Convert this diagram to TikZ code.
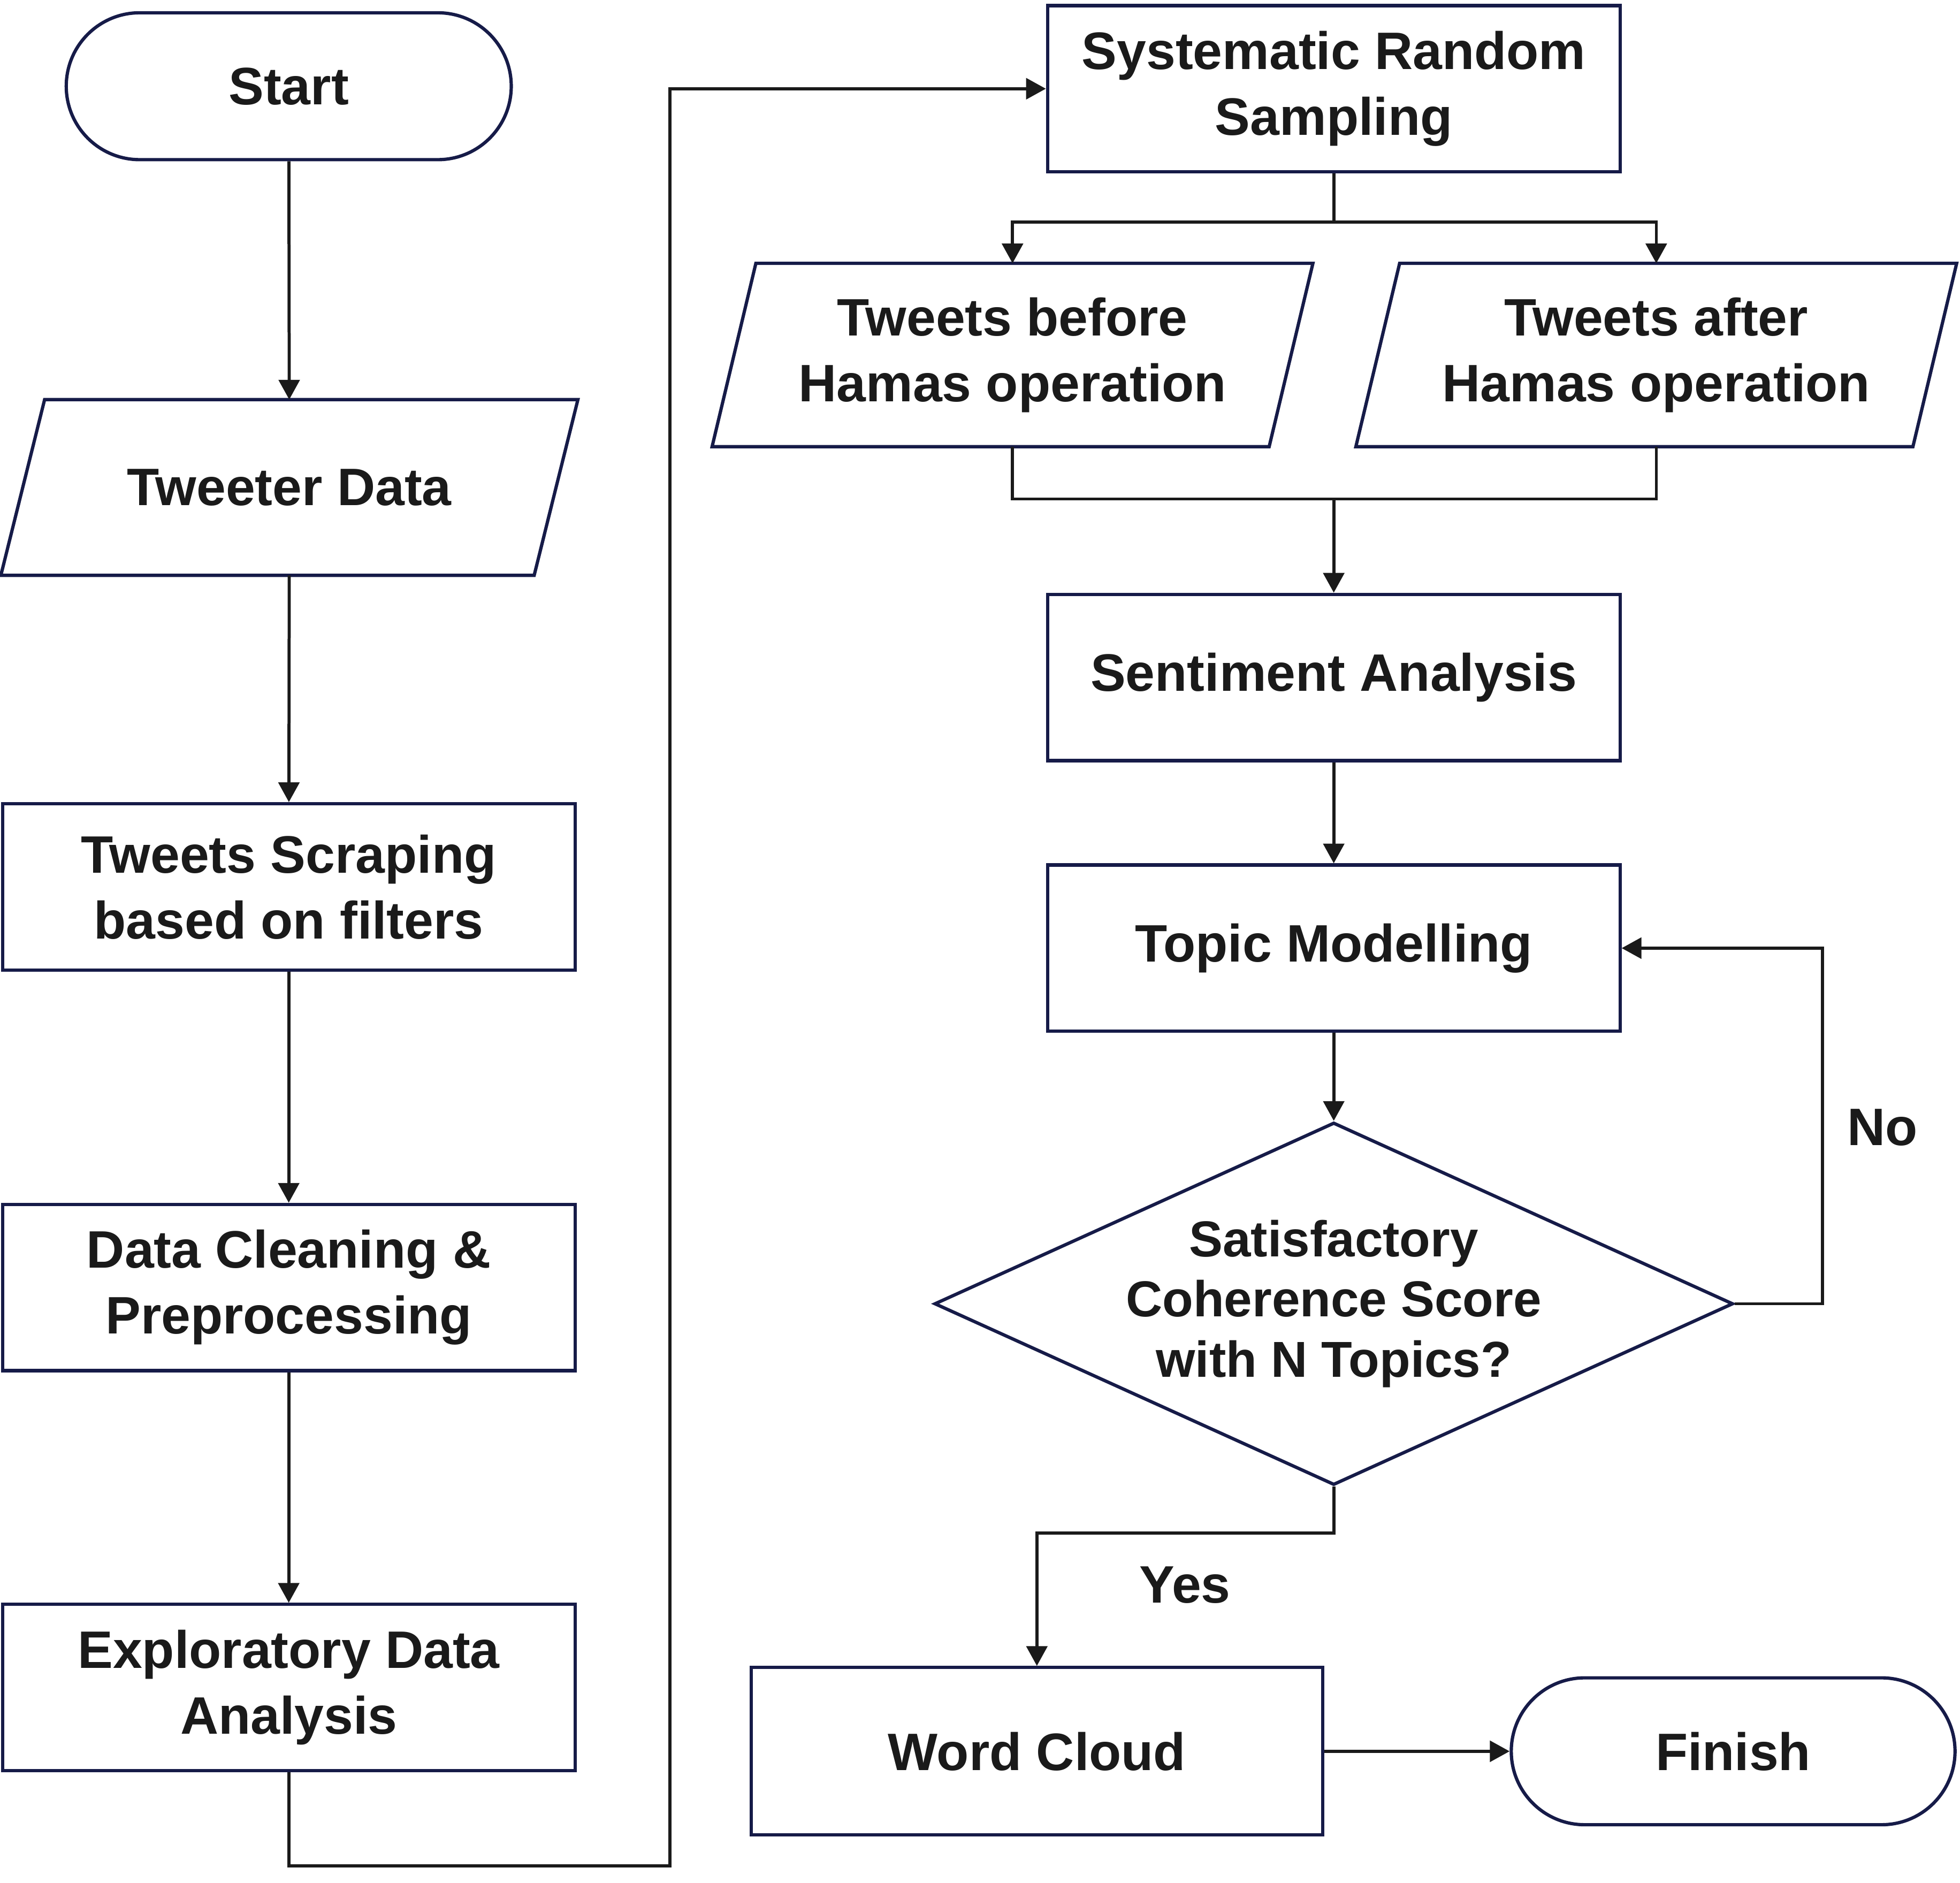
\documentclass[tikz,border=0pt]{standalone}
\usepackage{fontspec}
\setmainfont{Liberation Sans}
\usepackage{tikz}
\usetikzlibrary{shapes.geometric, shapes.misc, arrows.meta, calc}

\definecolor{boxline}{RGB}{22,27,72}
\definecolor{flowline}{RGB}{26,26,26}

\tikzset{
    base/.style={draw=boxline, line width=1.5pt, text=flowline, align=center,
        font=\fontsize{24}{30}\selectfont\bfseries, inner sep=0pt},
    terminal/.style={base, rounded rectangle, minimum width=7.12cm, minimum height=2.35cm},
    io/.style={base, draw=none, rectangle, minimum width=9.18cm, minimum height=2.76cm},
    ioline/.style={draw=boxline, line width=1.5pt},
    process/.style={base, rectangle, minimum width=9.16cm, minimum height=2.66cm},
    decision/.style={base, diamond, shape aspect=2.2, minimum width=12.78cm,
        minimum height=5.8cm, font=\fontsize{23}{27.5}\selectfont\bfseries},
    label/.style={text=flowline, font=\fontsize{24}{30}\selectfont\bfseries},
    arrow/.style={draw=flowline, line width=1.4pt, -{Triangle[length=9pt, width=9.5pt]}},
    line/.style={draw=flowline, line width=1.4pt}
}

% slanted data box round a named node
\newcommand{\ioshape}[2]{\draw[ioline] ($(#1.north west)+(#2,0)$) -- (#1.north east)
    -- ($(#1.south east)-(#2,0)$) -- (#1.south west) -- cycle;}

\begin{document}
\begin{tikzpicture}
    \useasboundingbox (0,0) rectangle (31.36,30.12);

    % left column
    \node[terminal] (start) at (4.62,28.74) {Start};
    \node[io] (tdata) at (4.63,22.32) {Tweeter Data};
    \ioshape{tdata}{0.7}
    \node[process] (scrape) at (4.62,15.93) {Tweets Scraping\\based on filters};
    \node[process] (clean) at (4.62,9.52) {Data Cleaning \&\\Preprocessing};
    \node[process] (eda) at (4.62,3.12) {Exploratory Data\\Analysis};

    % right column
    \node[process] (srs) at (21.34,28.70) {Systematic Random\\Sampling};
    \node[io, minimum width=9.56cm, minimum height=2.88cm] (before) at (16.2,24.44) {Tweets before\\Hamas operation};
    \ioshape{before}{0.7}
    \node[io, minimum width=9.56cm, minimum height=2.88cm] (after) at (26.5,24.44) {Tweets after\\Hamas operation};
    \ioshape{after}{0.7}
    \node[process] (sa) at (21.34,19.28) {Sentiment Analysis};
    \node[process] (tm) at (21.34,14.95) {Topic Modelling};
    \node[decision] (dec) at (21.34,9.26) {Satisfactory\\Coherence Score\\with N Topics?};
    \node[process, minimum width=9.14cm, minimum height=2.68cm] (wc) at (16.59,2.10) {Word Cloud};
    \node[terminal, minimum width=7.1cm] (fin) at (27.73,2.10) {Finish};

    % labels
    \node[label] (no) at (30.12,12.08) {No};
    \node[label] (yes) at (18.96,4.76) {Yes};

    % bends
    \coordinate (low) at ($(eda.south)+(0,-1.5)$);
    \coordinate (split) at ($(srs.south)+(0,-0.78)$);
    \coordinate (merge) at ($(sa.north)+(0,1.5)$);
    \coordinate (loop) at ($(dec.east)+(1.4,0)$);
    \coordinate (yesbend) at ($(dec.south)+(0,-0.74)$);

    % connectors
    \draw[arrow] (start) -- (tdata);
    \draw[arrow] (tdata) -- (scrape);
    \draw[arrow] (scrape) -- (clean);
    \draw[arrow] (clean) -- (eda);
    \draw[arrow] (eda.south) -- (low) -- ++(6.1,0) |- (srs.west);

    \draw[line] (srs.south) -- (split);
    \draw[arrow] (split) -| (before.north);
    \draw[arrow] (split) -| (after.north);
    \draw[line] (before.south) |- (merge) -| (after.south);
    \draw[arrow] (merge) -- (sa.north);

    \draw[arrow] (sa) -- (tm);
    \draw[arrow] (tm) -- (dec);
    \draw[arrow] (dec.east) -- (loop) |- (tm.east);
    \draw[arrow] (dec.south) -- (yesbend) -| (wc.north);
    \draw[arrow] (wc) -- (fin);
\end{tikzpicture}
\end{document}
